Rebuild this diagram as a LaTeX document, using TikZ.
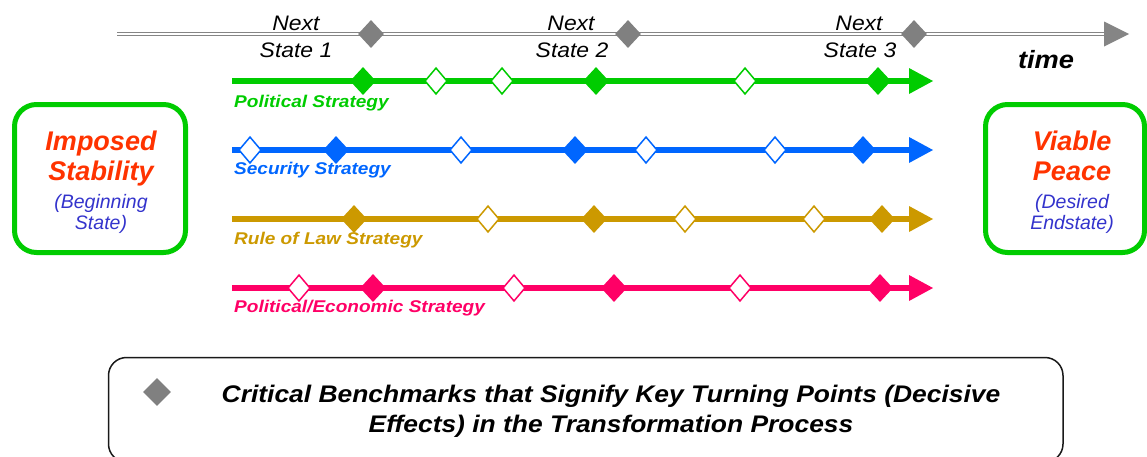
\documentclass[tikz,border=0pt]{standalone}
\usepackage{fontspec}
\usepackage{graphicx}
\setmainfont{Liberation Sans}
\usetikzlibrary{shapes.geometric,arrows.meta}
\definecolor{pgreen}{HTML}{00CC00}
\definecolor{sblue}{HTML}{0066FF}
\definecolor{lgold}{HTML}{CC9900}
\definecolor{epink}{HTML}{FF0066}
\definecolor{tgray}{HTML}{858585}
\definecolor{dgray}{HTML}{808080}
\definecolor{boxred}{HTML}{FF3300}
\definecolor{subblue}{HTML}{3333CC}
\newcommand{\hstr}[2]{\scalebox{#1}[1]{#2}}
\begin{document}
\begin{tikzpicture}[x=1pt,y=-1pt,
  diaf/.style={diamond, fill=#1, draw=none, minimum width=26pt, minimum height=28pt, inner sep=0pt},
  diao/.style={diamond, fill=white, draw=#1, line width=1.5pt, minimum width=22.5pt, minimum height=26.5pt, inner sep=0pt},
  gdia/.style={diamond, fill=dgray, draw=none, minimum width=26pt, minimum height=28pt, inner sep=0pt},
  strat/.style={draw=#1, line width=5.5pt, -{Triangle[length=24pt,width=26pt,line width=0pt,fill=#1]}},
  tline/.style={draw=tgray, line width=1.5pt, double=white, double distance=1.8pt},
  slabel/.style={anchor=base west, inner sep=0pt, text=#1, font=\fontsize{17}{20}\selectfont\bfseries\itshape},
  nextlbl/.style={anchor=base, inner sep=0pt, font=\fontsize{21}{25}\selectfont\itshape},
  endbox/.style={draw=pgreen, line width=5pt, rounded corners=22pt, minimum height=148pt, inner sep=0pt},
  bigred/.style={anchor=base, inner sep=0pt, text=boxred, font=\fontsize{27}{30}\selectfont\bfseries\itshape},
  subtxt/.style={anchor=base, inner sep=0pt, text=subblue, font=\fontsize{19.5}{22}\selectfont\itshape},
  legtxt/.style={anchor=base, inner sep=0pt, font=\fontsize{24}{27}\selectfont\bfseries\itshape}
]
\useasboundingbox (0,0) rectangle (1147,456);

% time line
\coordinate (ts) at (117,34);
\coordinate (tb) at (1104,34);
\coordinate (tt) at (1129,34);
\draw[tline] (ts) -- (tb);
\fill[tgray] (tt) -- ([yshift=-12.5pt]tb) -- ([yshift=12.5pt]tb) -- cycle;
\node[gdia] (n1) at (371,34) {};
\node[gdia] (n2) at (628,34) {};
\node[gdia] (n3) at (914,34) {};
\node[nextlbl] (nx1) at (296,30) {\hstr{1.09}{Next}};
\node[nextlbl] (st1) at (296,57) {\hstr{1.09}{State 1}};
\node[nextlbl] (nx2) at (571,30) {\hstr{1.09}{Next}};
\node[nextlbl] (st2) at (572,57) {\hstr{1.09}{State 2}};
\node[nextlbl] (nx3) at (859,30) {\hstr{1.09}{Next}};
\node[nextlbl] (st3) at (860,57) {\hstr{1.09}{State 3}};
\node[anchor=base, inner sep=0pt, font=\fontsize{25}{28}\selectfont\bfseries\itshape] (time) at (1046,68) {\hstr{1.09}{time}};

% strategy lines
\coordinate (gs) at (232,81);  \coordinate (ge) at (933,81);
\coordinate (bs) at (232,150); \coordinate (be) at (933,150);
\coordinate (ls) at (232,219); \coordinate (le) at (933,219);
\coordinate (ps) at (232,288); \coordinate (pe) at (933,288);
\draw[strat=pgreen] (gs) -- (ge);
\draw[strat=sblue] (bs) -- (be);
\draw[strat=lgold] (ls) -- (le);
\draw[strat=epink] (ps) -- (pe);

\foreach \x/\t [count=\i] in {363/f,436/o,502/o,596/f,745/o,878/f}
  \node[dia\t=pgreen] (g\i) at (\x,81) {};
\foreach \x/\t [count=\i] in {250/o,336/f,461/o,575/f,646/o,775/o,863/f}
  \node[dia\t=sblue] (b\i) at (\x,150) {};
\foreach \x/\t [count=\i] in {354/f,488/o,594/f,685/o,814/o,882/f}
  \node[dia\t=lgold] (l\i) at (\x,219) {};
\foreach \x/\t [count=\i] in {299/o,373/f,514/o,614/f,740/o,880/f}
  \node[dia\t=epink] (p\i) at (\x,288) {};

\node[slabel=pgreen] (gl) at (234,107) {\hstr{1.12}{Political Strategy}};
\node[slabel=sblue] (bl) at (234,174) {\hstr{1.12}{Security Strategy}};
\node[slabel=lgold] (ll) at (234,244) {\hstr{1.12}{Rule of Law Strategy}};
\node[slabel=epink] (pl) at (234,312) {\hstr{1.12}{Political/Economic Strategy}};

% begin / end boxes
\node[endbox, minimum width=171pt] (beg) at (100,178.5) {};
\node[bigred] (imp) at (101,150) {Imposed};
\node[bigred] (stab) at (101,180) {Stability};
\node[subtxt] (bgn) at (101,208.5) {(Beginning};
\node[subtxt] (bst) at (101,229) {State)};

\node[endbox, minimum width=159pt] (fin) at (1065,178.5) {};
\node[bigred] (via) at (1072,150) {Viable};
\node[bigred] (pea) at (1072,180.5) {Peace};
\node[subtxt] (des) at (1072,208.5) {(Desired};
\node[subtxt] (ends) at (1072,229.5) {Endstate)};

% legend
\node[draw=black!90, line width=1.5pt, rounded corners=18pt, minimum width=954.5pt, minimum height=104.5pt, inner sep=0pt] (leg) at (585.75,409.75) {};
\node[gdia, minimum width=28pt, minimum height=28pt] (legd) at (157,392) {};
\node[legtxt] (lt1) at (611,402) {\hstr{1.1}{Critical Benchmarks that Signify Key Turning Points (Decisive}};
\node[legtxt] (lt2) at (611,432) {\hstr{1.1}{Effects) in the Transformation Process}};
\end{tikzpicture}
\end{document}
